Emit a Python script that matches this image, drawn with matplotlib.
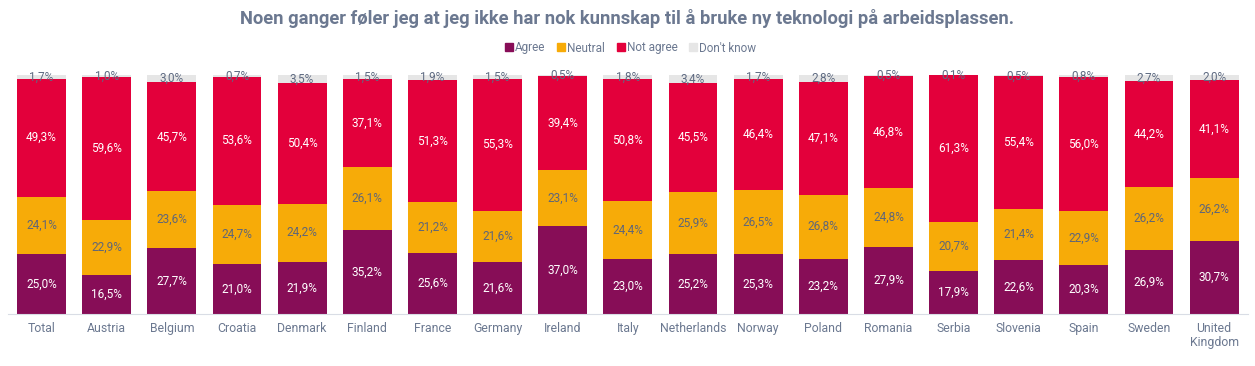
import numpy as np
import matplotlib
matplotlib.use("Agg")
import matplotlib.pyplot as plt
from matplotlib.lines import Line2D

plt.rcParams['font.family'] = ['Roboto', 'DejaVu Sans']

countries = ["Total", "Austria", "Belgium", "Croatia", "Denmark", "Finland", "France",
             "Germany", "Ireland", "Italy", "Netherlands", "Norway", "Poland", "Romania",
             "Serbia", "Slovenia", "Spain", "Sweden", "United\nKingdom"]
agree = [25.0, 16.5, 27.7, 21.0, 21.9, 35.2, 25.6, 21.6, 37.0, 23.0, 25.2, 25.3, 23.2, 27.9, 17.9, 22.6, 20.3, 26.9, 30.7]
neutral = [24.1, 22.9, 23.6, 24.7, 24.2, 26.1, 21.2, 21.6, 23.1, 24.4, 25.9, 26.5, 26.8, 24.8, 20.7, 21.4, 22.9, 26.2, 26.2]
not_agree = [49.3, 59.6, 45.7, 53.6, 50.4, 37.1, 51.3, 55.3, 39.4, 50.8, 45.5, 46.4, 47.1, 46.8, 61.3, 55.4, 56.0, 44.2, 41.1]
dont_know = [1.7, 1.0, 3.0, 0.7, 3.5, 1.5, 1.9, 1.5, 0.5, 1.8, 3.4, 1.7, 2.8, 0.5, 0.1, 0.5, 0.8, 2.7, 2.0]

series_names = ["Agree", "Neutral", "Not agree", "Don't know"]
series_colours = ["#870d57", "#f7ab08", "#e3003b", "#e6e6e6"]
label_colours = ["white", "#5f6678", "white", "#5f6b82"]
text_grey = "#6b7890"

fig = plt.figure(figsize=(12.55, 3.66), dpi=100)
ax = fig.add_axes([8 / 1255, 1 - 314 / 366, 1240 / 1255, 239 / 366])

x = np.arange(len(countries))
bottom = np.zeros(len(countries))
for values, name, colour, lcolour in zip([agree, neutral, not_agree, dont_know],
                                         series_names, series_colours, label_colours):
    values = np.array(values)
    ax.bar(x, values, width=0.75, bottom=bottom, color=colour, label=name)
    for xi, b, v in zip(x, bottom, values):
        ax.text(xi, b + v / 2, f"{v:.1f}%".replace(".", ","), ha="center", va="center",
                fontsize=8.5, color=lcolour)
    bottom += values

ax.set_xlim(-0.515, len(countries) - 0.48)
ax.set_ylim(0, 100)
ax.set_xticks(x)
ax.set_xticklabels(countries, fontsize=8.8, color=text_grey, linespacing=1.05)
ax.tick_params(axis="x", length=0, pad=6)
ax.set_yticks([])
for side in ["top", "right", "left"]:
    ax.spines[side].set_visible(False)
ax.spines["bottom"].set_color("#d9dde5")
ax.set_facecolor("none")

handles = [Line2D([], [], marker="s", linestyle="none", markersize=5.5, color=c) for c in series_colours]
fig.legend(handles, series_names, loc="center", bbox_to_anchor=(630 / 1255, 1 - 48 / 366),
           ncol=4, frameon=False, fontsize=8.5, labelcolor=text_grey, handletextpad=0.05,
           columnspacing=0.9, handlelength=0.9)

fig.text(627 / 1255, 1 - 18 / 366,
         "Noen ganger føler jeg at jeg ikke har nok kunnskap til å bruke ny teknologi på arbeidsplassen.",
         ha="center", va="center", fontsize=13.25, fontweight="bold", color=text_grey)

fig.savefig("out.png", dpi=100)
